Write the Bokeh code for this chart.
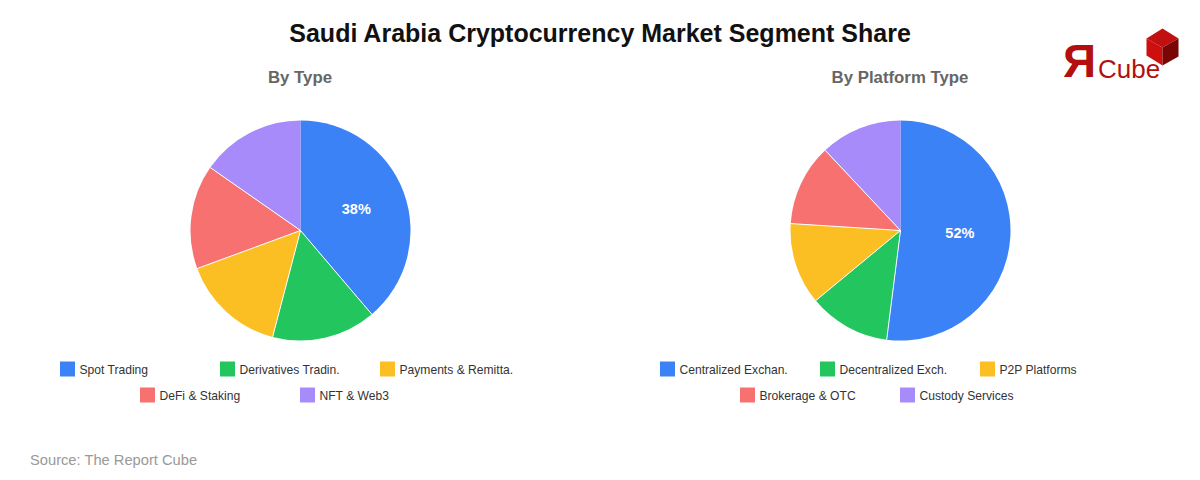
from math import pi, sin, cos
from bokeh.embed import file_html
from bokeh.models import Range1d
from bokeh.plotting import figure
from bokeh.resources import INLINE
from bokeh.core.properties import value

type_labels = ["Spot Trading", "Derivatives Tradin.", "Payments & Remitta.", "DeFi & Staking", "NFT & Web3"]
type_values = [38, 15, 15, 15, 15]
platform_labels = ["Centralized Exchan.", "Decentralized Exch.", "P2P Platforms", "Brokerage & OTC", "Custody Services"]
platform_values = [52, 12, 12, 12, 12]
colors = ["#3b82f6", "#22c55e", "#fbbf24", "#f87171", "#a78bfa"]

FONT = value("Liberation Sans")
LOGO_RED = "#b30f0f"


# y del pixel de la pagina a y de datos
def py(y):
    return 480 - y


p = figure(width=1200, height=480, output_backend="svg", toolbar_location=None,
           x_range=Range1d(0, 1200), y_range=Range1d(0, 480),
           min_border=0, outline_line_color=None, background_fill_color="white")
p.axis.visible = False
p.grid.visible = False


def label(x, y, text, size, color, align="left", bold=False, font=FONT):
    p.text([x], [py(y)], text=[text], text_font=font, text_font_size=size, text_color=color,
           text_align=align, text_baseline="middle", text_font_style="bold" if bold else "normal")


def pie(cx, cy, title, labels, values):
    total = sum(values)
    label(cx - 0.5, 77, title, "16.8px", "#666666", align="center", bold=True)

    # angulos en sentido horario desde arriba
    starts, ends = [], []
    acc = 0
    for v in values:
        starts.append(pi / 2 - 2 * pi * acc / total)
        acc += v
        ends.append(pi / 2 - 2 * pi * acc / total)

    p.wedge(x=[cx] * 5, y=[py(cy)] * 5, radius=110, start_angle=starts, end_angle=ends,
            direction="clock", fill_color=colors, line_color=None)
    # separadores blancos, menos el de arriba
    p.ray(x=[cx] * 4, y=[py(cy)] * 4, length=110, angle=ends[:4], line_color="white", line_width=1)

    mid = (starts[0] + ends[0]) / 2
    label(cx + 60 * cos(mid) - 0.5, cy - 60 * sin(mid) - 1, f"{values[0]}%", "14.5px", "white", align="center", bold=True)

    # leyenda
    x0 = cx - 240.5
    slots = [(x0, 368.5), (x0 + 160, 368.5), (x0 + 320, 368.5), (x0 + 80, 394.5), (x0 + 240, 394.5)]
    for (sx, sy), name, col in zip(slots, labels, colors):
        p.quad(left=[sx], right=[sx + 15], top=[py(sy - 7.5)], bottom=[py(sy + 7.5)], fill_color=col, line_color=None)
        label(sx + 19.5, sy + 0.5, name, "12.1px", "#333333")


label(600, 32.5, "Saudi Arabia Cryptocurrency Market Segment Share", "25px", "#111111", align="center", bold=True)
pie(300, 230, "By Type", type_labels, type_values)
pie(900, 230, "By Platform Type", platform_labels, platform_values)
label(29.5, 459, "Source: The Report Cube", "14.7px", "#999999")

# logo
label(1079, 60.5, "Я", "46px", LOGO_RED, align="center", bold=True)
label(1097.5, 68, "Cube", "26px", LOGO_RED)
p.patch([1146, 1162, 1178, 1162], [py(38), py(28), py(38), py(47)], fill_color="#c01010", line_color=None)
p.patch([1146, 1162, 1162, 1146], [py(38), py(47), py(65), py(55)], fill_color="#cc0f0f", line_color=None)
p.patch([1162, 1178, 1178, 1162], [py(47), py(38), py(56), py(65)], fill_color="#7a0505", line_color=None)

open("out.html", "w").write(file_html(p, INLINE))
